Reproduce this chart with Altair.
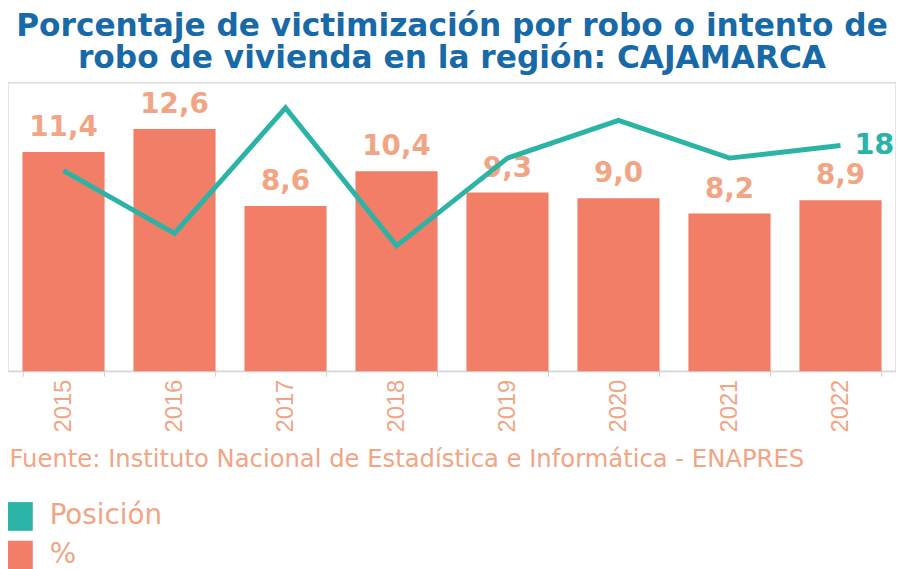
import altair as alt
import pandas as pd

# ---- data ----
years = ["2015", "2016", "2017", "2018", "2019", "2020", "2021", "2022"]
pct = [11.4, 12.6, 8.6, 10.4, 9.3, 9.0, 8.2, 8.9]
posicion = [16, 11, 21, 10, 17, 20, 17, 18]
legend_names = ["Posición", "%"]
title_lines = [
    "Porcentaje de victimización por robo o intento de",
    "robo de vivienda en la región: CAJAMARCA",
]
source_text = "Fuente: Instituto Nacional de Estadística e Informática - ENAPRES"

# ---- colours ----
SALMON = "#f27e68"
TEAL = "#2bb3a6"
PEACH = "#f2a584"
BLUE = "#1769a8"

df = pd.DataFrame({
    "year": years,
    "pct": pct,
    "pos": posicion,
    "serie": ["%"] * len(years),
})
df["pct_label"] = [f"{v:.1f}".replace(".", ",") for v in pct]

x_enc = alt.X(
    "year:N",
    sort=years,
    scale=alt.Scale(paddingInner=0.26, paddingOuter=0.13),
    axis=alt.Axis(
        title=source_text,
        titleAnchor="start",
        titleX=1,
        titleFont="DejaVu Sans",
        titleFontWeight="normal",
        titleFontSize=24.5,
        titleColor=PEACH,
        titlePadding=16,
        labelAngle=270,
        labelFont="Liberation Sans",
        labelFontSize=24,
        labelColor=PEACH,
        labelPadding=3,
        tickBand="extent",
        tickSize=5,
        tickColor="#cccccc",
        domainColor="#d4d4d4",
        grid=False,
    ),
)

base = alt.Chart(df).encode(x=x_enc)

pct_scale = alt.Scale(domain=[0, 15])
pos_scale = alt.Scale(domain=[0, 23])

bars = base.mark_bar().encode(
    y=alt.Y("pct:Q", scale=pct_scale, axis=None),
    color=alt.Color(
        "serie:N",
        scale=alt.Scale(domain=legend_names, range=[TEAL, SALMON]),
        legend=alt.Legend(
            title=None,
            orient="none",
            legendX=-4,
            legendY=423,
            direction="vertical",
            symbolType="square",
            symbolSize=840,
            symbolStrokeWidth=0,
            labelFont="DejaVu Sans",
            labelFontSize=28,
            labelColor=PEACH,
            labelOffset=17,
            rowPadding=10,
        ),
    ),
)

bar_labels = base.mark_text(
    font="DejaVu Sans", fontWeight="bold", fontSize=28,
    color=PEACH, baseline="bottom", dy=-10,
).encode(
    y=alt.Y("pct:Q", scale=pct_scale, axis=None),
    text="pct_label:N",
)

line = base.mark_line(color=TEAL, strokeWidth=5).encode(
    y=alt.Y("pos:Q", scale=pos_scale, axis=None),
)

pos_label = base.transform_filter("datum.year == '2022'").mark_text(
    font="DejaVu Sans", fontWeight="bold", fontSize=29,
    color=TEAL, align="left", baseline="middle", dx=14,
).encode(
    y=alt.Y("pos:Q", scale=pos_scale, axis=None),
    text="pos:Q",
)

chart = (
    alt.layer(bars, bar_labels, line, pos_label)
    .resolve_scale(y="independent")
    .properties(
        width=896,
        height=291,
        autosize=alt.AutoSizeParams(type="none"),
        padding={"left": 0, "top": 73, "right": 0, "bottom": 197},
        title=alt.Title(
            text=title_lines,
            font="DejaVu Sans",
            fontWeight="bold",
            fontSize=31.5,
            lineHeight=33,
            color=BLUE,
            anchor="middle",
            offset=8,
        ),
    )
    .configure_view(stroke="#dcdcdc", strokeWidth=1.5)
)

chart.save("out.html", embed_options={"renderer": "svg", "actions": False})
